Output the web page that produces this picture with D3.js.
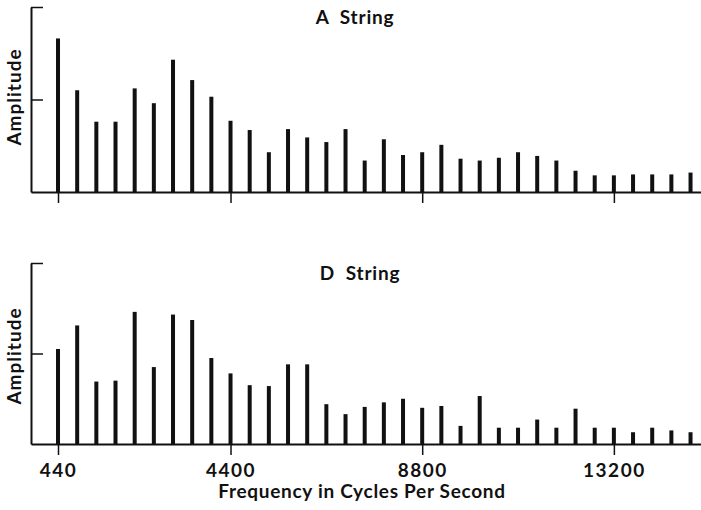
<!DOCTYPE html>
<html>
<head>
<meta charset="utf-8">
<script src="https://cdn.jsdelivr.net/npm/d3@7"></script>
<style>
  body { margin: 0; background: #fff; }
  svg { display: block; }
  text { font-family: Lato, "Open Sans", sans-serif; font-weight: 700; fill: #111; }
</style>
</head>
<body>
<div id="chart"></div>
<script>
// harmonics: n * 440 Hz, n = 1..34
const fundamental = 440
const harmonics = d3.range(1, 35)
const tickFreqs = [440, 4400, 8800, 13200]

// amplitudes (in units of the middle y tick)
const aString = [1.66, 1.10, 0.76, 0.76, 1.12, 0.96, 1.43, 1.21, 1.03, 0.77,
  0.67, 0.43, 0.68, 0.59, 0.54, 0.68, 0.34, 0.57, 0.40, 0.43,
  0.51, 0.36, 0.34, 0.37, 0.43, 0.39, 0.34, 0.23, 0.18, 0.18,
  0.19, 0.19, 0.19, 0.21]
const dString = [1.05, 1.31, 0.69, 0.70, 1.46, 0.85, 1.43, 1.37, 0.95, 0.78,
  0.65, 0.64, 0.88, 0.88, 0.44, 0.33, 0.41, 0.46, 0.50, 0.40,
  0.42, 0.20, 0.53, 0.18, 0.18, 0.27, 0.18, 0.39, 0.18, 0.18,
  0.13, 0.18, 0.15, 0.13]

const panels = [
  {title: 'A\u00a0\u00a0String', values: aString, top: 7, bottom: 192, labels: false, tx: 355, ly: 97},
  {title: 'D\u00a0\u00a0String', values: dString, top: 263, bottom: 444, labels: true, tx: 360, ly: 356}
]

const W = 701, H = 510
const svg = d3.select('#chart').append('svg')
  .attr('width', W).attr('height', H)

const x = d3.scaleLinear().domain([-180, 15200]).range([31, 701])

panels.forEach(p => {
  const y = d3.scaleLinear().domain([0, 2]).range([p.bottom, p.top])
  const g = svg.append('g')

  // bars
  g.selectAll('rect.bar').data(p.values).enter().append('rect')
    .attr('class', 'bar')
    .attr('x', (d, i) => x(harmonics[i] * fundamental) - 2)
    .attr('y', d => y(d))
    .attr('width', 4)
    .attr('height', d => y(0) - y(d))
    .attr('fill', '#111')

  // x axis
  const xAxis = g.append('g')
    .attr('transform', 'translate(0,' + p.bottom + ')')
    .call(d3.axisBottom(x).tickValues(tickFreqs).tickSize(11).tickSizeOuter(0)
      .tickFormat(p.labels ? d3.format('d') : ''))
  xAxis.select('.domain').attr('stroke', '#111').attr('stroke-width', 2.2)
  xAxis.selectAll('.tick line').attr('stroke', '#111').attr('stroke-width', 1.5)
  xAxis.selectAll('.tick text')
    .attr('font-size', 19).attr('dy', '1.0em')
    .style('letter-spacing', '1.5px')
    .style('font-family', 'Lato, sans-serif').style('font-weight', 700).attr('fill', '#111')

  // y axis: vertical line with ticks to the right, no labels
  const yAxis = g.append('g')
    .attr('transform', 'translate(31,0)')
    .call(d3.axisRight(y).tickValues([1, 2]).tickSize(12).tickSizeOuter(0).tickFormat(''))
  yAxis.select('.domain').attr('stroke', '#111').attr('stroke-width', 2)
  yAxis.selectAll('.tick line').attr('stroke', '#111').attr('stroke-width', 1.5)

  // title
  g.append('text')
    .text(p.title)
    .attr('x', p.tx).attr('y', p.top + 17)
    .attr('text-anchor', 'middle')
    .attr('font-size', 19)
    .style('letter-spacing', '0.8px')

  // y label
  g.append('text')
    .text('Amplitude')
    .attr('text-anchor', 'middle')
    .attr('font-size', 19)
    .style('letter-spacing', '1px')
    .attr('transform', 'translate(21,' + p.ly + ') rotate(-90)')
})

svg.append('text')
  .text('Frequency in Cycles Per Second')
  .attr('x', 362).attr('y', 498)
  .attr('text-anchor', 'middle')
  .attr('font-size', 19)
  .style('letter-spacing', '0.7px')
</script>
</body>
</html>
